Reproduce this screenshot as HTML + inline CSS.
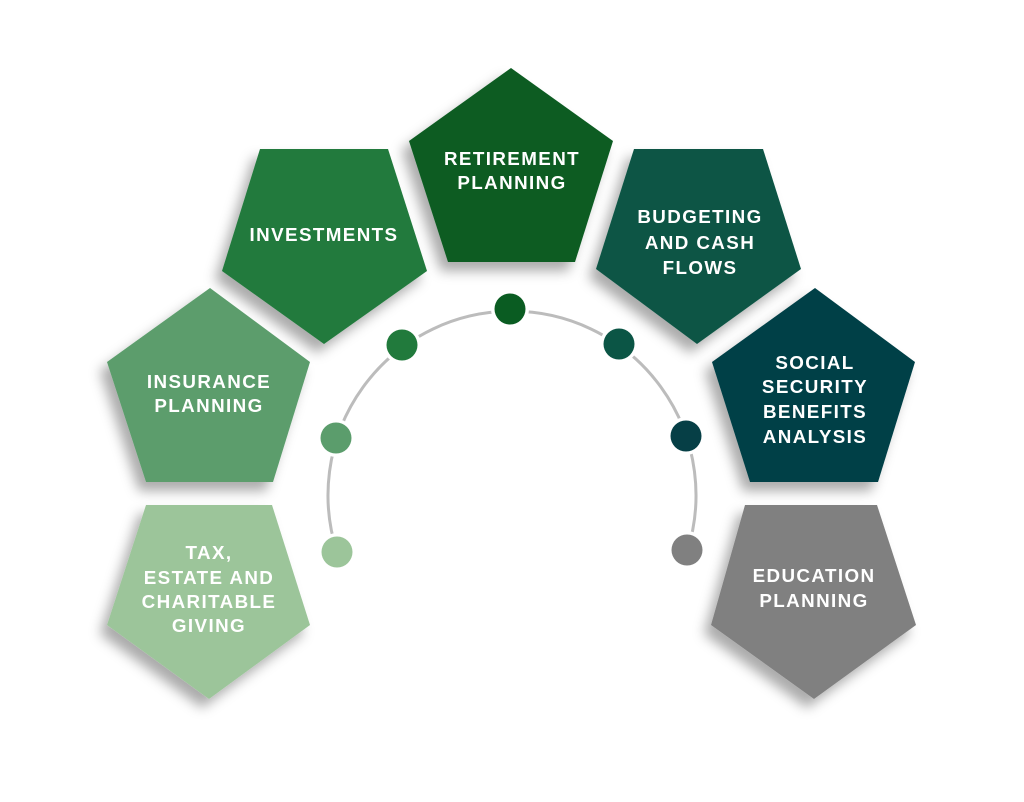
<!DOCTYPE html>
<html>
<head>
<meta charset="utf-8">
<style>
  html,body{margin:0;padding:0;background:#ffffff;}
  body{width:1024px;height:802px;overflow:hidden;}
  svg{display:block;}
  .t{font-family:"Liberation Sans",sans-serif;font-weight:bold;font-size:18.8px;fill:#ffffff;text-anchor:middle;letter-spacing:1.4px;}
</style>
</head>
<body>
<svg width="1024" height="802" viewBox="0 0 1024 802" xmlns="http://www.w3.org/2000/svg">
  <defs>
    <filter id="sh" x="-30%" y="-30%" width="160%" height="160%">
      <feDropShadow dx="-7" dy="9" stdDeviation="6" flood-color="#000000" flood-opacity="0.33"/>
    </filter>
  </defs>

  <!-- arc -->
  <path d="M 337 552 A 184 184 0 1 1 687 552" fill="none" stroke="#bcbcbc" stroke-width="3"/>

  <!-- pentagons -->
  <polygon points="511,68 613,141 575,262 448,262 409,141" fill="#0a5c22" filter="url(#sh)"/>
  <polygon points="260,149 388,149 427,271 324,344 222,271" fill="#217a3c" filter="url(#sh)"/>
  <polygon points="634,149 763,149 801,269 697,344 596,269" fill="#0b5545" filter="url(#sh)"/>
  <polygon points="210,288 310,362 273,482 146,482 107,362" fill="#5b9d6c" filter="url(#sh)"/>
  <polygon points="815,288 915,362 878,482 750,482 712,362" fill="#063f46" filter="url(#sh)"/>
  <polygon points="146,505 272,505 310,625 209,699 107,625" fill="#9cc59a" filter="url(#sh)"/>
  <polygon points="745,505 877,505 916,625 814,699 711,625" fill="#808080" filter="url(#sh)"/>

  <!-- dots -->
  <g fill="#ffffff">
    <circle cx="510" cy="309" r="19"/>
    <circle cx="402" cy="345" r="19"/>
    <circle cx="619" cy="344" r="19"/>
    <circle cx="336" cy="438" r="19"/>
    <circle cx="686" cy="436" r="19"/>
    <circle cx="337" cy="552" r="19"/>
    <circle cx="687" cy="550" r="19"/>
  </g>
  <circle cx="510" cy="309" r="15.5" fill="#0a5c22"/>
  <circle cx="402" cy="345" r="15.5" fill="#217a3c"/>
  <circle cx="619" cy="344" r="15.5" fill="#0b5545"/>
  <circle cx="336" cy="438" r="15.5" fill="#5b9d6c"/>
  <circle cx="686" cy="436" r="15.5" fill="#063f46"/>
  <circle cx="337" cy="552" r="15.5" fill="#9cc59a"/>
  <circle cx="687" cy="550" r="15.5" fill="#808080"/>

  <!-- labels -->
  <text class="t" x="512" y="165">RETIREMENT</text>
  <text class="t" x="512" y="189">PLANNING</text>

  <text class="t" x="324" y="241">INVESTMENTS</text>

  <text class="t" x="700" y="223">BUDGETING</text>
  <text class="t" x="700" y="249">AND CASH</text>
  <text class="t" x="700" y="274">FLOWS</text>

  <text class="t" x="209" y="388">INSURANCE</text>
  <text class="t" x="209" y="412">PLANNING</text>

  <text class="t" x="815" y="369">SOCIAL</text>
  <text class="t" x="815" y="393">SECURITY</text>
  <text class="t" x="815" y="418">BENEFITS</text>
  <text class="t" x="815" y="443">ANALYSIS</text>

  <text class="t" x="209" y="559">TAX,</text>
  <text class="t" x="209" y="584">ESTATE AND</text>
  <text class="t" x="209" y="608">CHARITABLE</text>
  <text class="t" x="209" y="632">GIVING</text>

  <text class="t" x="814" y="582">EDUCATION</text>
  <text class="t" x="814" y="607">PLANNING</text>
</svg>
</body>
</html>
